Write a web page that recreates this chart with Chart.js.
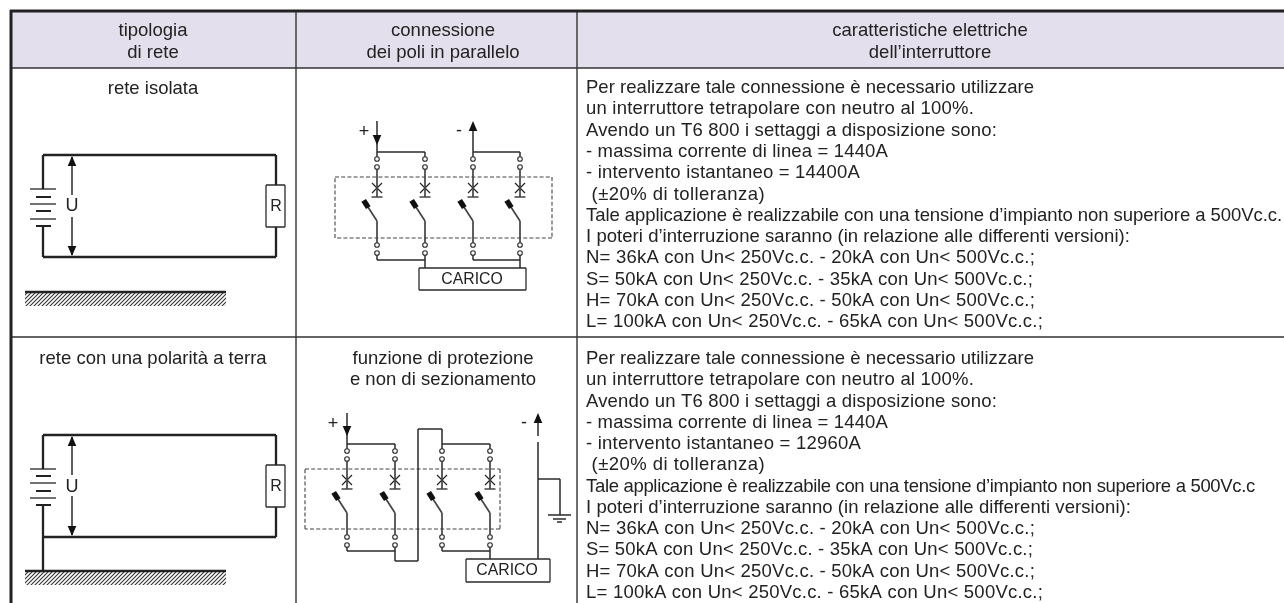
<!DOCTYPE html>
<html>
<head>
<meta charset="utf-8">
<title>tipologia di rete</title>
<script src="https://cdn.jsdelivr.net/npm/chart.js@4/dist/chart.umd.js"></script>
<style>
  html, body { margin: 0; padding: 0; background: #fff; }
  #wrap { width: 1284px; height: 603px; }
</style>
</head>
<body>
<div id="wrap"><canvas id="myChart" width="1284" height="603"></canvas></div>
<script>
// texts
const headCol1 = ['tipologia', 'di rete'];
const headCol2 = ['connessione', 'dei poli in parallelo'];
const headCol3 = ['caratteristiche elettriche', 'dell\u2019interruttore'];
const row1Title = ['rete isolata'];
const row2Title = ['rete con una polarit\u00e0 a terra'];
const row2Note = ['funzione di protezione', 'e non di sezionamento'];
const row1Text = [
  'Per realizzare tale connessione \u00e8 necessario utilizzare',
  'un interruttore tetrapolare con neutro al 100%.',
  'Avendo un T6 800 i settaggi a disposizione sono:',
  '- massima corrente di linea = 1440A',
  '- intervento istantaneo = 14400A',
  ' (\u00b120% di tolleranza)',
  'Tale applicazione \u00e8 realizzabile con una tensione d\u2019impianto non superiore a 500Vc.c.',
  'I poteri d\u2019interruzione saranno (in relazione alle differenti versioni):',
  'N= 36kA con Un< 250Vc.c. - 20kA con Un< 500Vc.c.;',
  'S= 50kA con Un< 250Vc.c. - 35kA con Un< 500Vc.c.;',
  'H= 70kA con Un< 250Vc.c. - 50kA con Un< 500Vc.c.;',
  'L= 100kA con Un< 250Vc.c. - 65kA con Un< 500Vc.c.;'
];
const row2Text = [
  'Per realizzare tale connessione \u00e8 necessario utilizzare',
  'un interruttore tetrapolare con neutro al 100%.',
  'Avendo un T6 800 i settaggi a disposizione sono:',
  '- massima corrente di linea = 1440A',
  '- intervento istantaneo = 12960A',
  ' (\u00b120% di tolleranza)',
  'Tale applicazione \u00e8 realizzabile con una tensione d\u2019impianto non superiore a 500Vc.c',
  'I poteri d\u2019interruzione saranno (in relazione alle differenti versioni):',
  'N= 36kA con Un< 250Vc.c. - 20kA con Un< 500Vc.c.;',
  'S= 50kA con Un< 250Vc.c. - 35kA con Un< 500Vc.c.;',
  'H= 70kA con Un< 250Vc.c. - 50kA con Un< 500Vc.c.;',
  'L= 100kA con Un< 250Vc.c. - 65kA con Un< 500Vc.c.;'
];
// where each line of the right column ends
const row1Ends = [1034, 974, 997, 888, 860, 765, 1282, 1130, 1035, 1033, 1035, 1043];
const row2Ends = [1034, 974, 997, 888, 861, 765, 1255, 1131, 1035, 1033, 1035, 1043];

// table frame [x1, y1, x2, y2]
const frameHeavy = [[10, 11, 1284, 11], [11, 10, 11, 603]];
const frameThin = [[296, 12, 296, 603], [577, 12, 577, 603], [12, 68, 1284, 68], [12, 337, 1284, 337]];
const headerBox = [[12, 12], [1284, 12], [1284, 68], [12, 68], [12, 12]];

// circuits on the left
const circuitWires = [
  [43, 155, 276, 155], [43, 155, 43, 189], [43, 226, 43, 257], [43, 257, 276, 257],
  [276, 155, 276, 185], [276, 227, 276, 257], [25, 292, 226, 292],
  [43, 435, 276, 435], [43, 435, 43, 469], [43, 505, 43, 571], [43, 537, 276, 537],
  [276, 435, 276, 465], [276, 507, 276, 537], [25, 571, 226, 571]
];
const batteryLong = [
  [30, 189, 56, 189], [30, 204, 56, 204], [30, 219, 56, 219],
  [30, 469, 56, 469], [30, 483, 56, 483], [30, 498, 56, 498]
];
const batteryShort = [
  [36, 197, 51, 197], [36, 211, 51, 211], [36, 226, 51, 226],
  [36, 476, 51, 476], [36, 491, 51, 491], [36, 505, 51, 505]
];
const boxes = [
  [266, 185, 285, 227], [266, 465, 285, 507],
  [419, 268, 526, 290], [466, 559, 550, 582]
];
const thinWires = [
  [72, 157, 72, 195], [72, 217, 72, 255], [72, 437, 72, 475], [72, 496, 72, 535],
  // row 1 connections
  [377, 121, 377, 159], [377, 152, 425, 152], [425, 152, 425, 157],
  [473, 125, 473, 157], [473, 152, 520, 152], [520, 152, 520, 157],
  [377, 255, 377, 260], [377, 260, 425, 260], [425, 255, 425, 268],
  [473, 255, 473, 260], [473, 260, 520, 260], [520, 255, 520, 268],
  // row 2 connections
  [347, 413, 347, 449], [347, 444, 395, 444], [395, 444, 395, 449],
  [418, 429, 442, 429], [442, 429, 442, 449], [442, 444, 490, 444], [490, 444, 490, 449],
  [347, 547, 347, 551], [347, 551, 395, 551], [395, 547, 395, 561],
  [395, 561, 418, 561], [418, 429, 418, 561],
  [442, 547, 442, 551], [442, 551, 490, 551], [490, 547, 490, 559],
  [538, 418, 538, 436], [538, 442, 538, 559], [538, 479, 560, 479], [560, 479, 560, 515],
  [548, 515, 571, 515], [553, 519, 566, 519], [557, 522, 562, 522]
];
const dashedBoxes = [
  [335, 177, 552, 177], [552, 177, 552, 238], [552, 238, 335, 238], [335, 238, 335, 177],
  [305, 469, 500, 469], [500, 469, 500, 529], [500, 529, 305, 529], [305, 529, 305, 469]
];
const groundAreas = [
  [[25, 293], [226, 293], [226, 306], [25, 306], [25, 293]],
  [[25, 572], [226, 572], [226, 585], [25, 585], [25, 572]]
];
// arrow heads [x, tip y, direction]
const arrowHeads = [
  [72, 156, -1], [72, 256, 1], [72, 436, -1], [72, 536, 1],
  [377, 145, 1], [473, 121, -1], [347, 436, 1], [538, 413, -1]
];
// poles [x, y of upper contact]
const poles = [
  [377, 159], [425, 159], [473, 159], [520, 159],
  [347, 451], [395, 451], [442, 451], [490, 451]
];

const ink = '#2b2b2b';

function seg(list) {
  const out = [];
  list.forEach(s => {
    out.push({ x: s[0], y: s[1] }, { x: s[2], y: s[3] }, { x: null, y: null });
  });
  return out;
}
function lines(list, width, color, dash) {
  return {
    type: 'scatter', showLine: true, data: seg(list),
    borderColor: color || ink, borderWidth: width, borderDash: dash || [],
    pointRadius: 0, fill: false, tension: 0, spanGaps: false
  };
}
function shape(points, color) {
  return {
    type: 'scatter', showLine: true, data: points.map(p => ({ x: p[0], y: p[1] })),
    borderColor: 'rgba(0,0,0,0)', borderWidth: 0, backgroundColor: color,
    pointRadius: 0, fill: 'shape', tension: 0
  };
}
function hatchPattern() {
  const c = document.createElement('canvas');
  c.width = 4; c.height = 4;
  const g = c.getContext('2d');
  g.strokeStyle = '#333';
  g.lineWidth = 1.1;
  g.beginPath();
  g.moveTo(-1, 5); g.lineTo(5, -1);
  g.moveTo(-1, 1); g.lineTo(1, -1);
  g.moveTo(3, 5); g.lineTo(5, 3);
  g.stroke();
  return g.createPattern(c, 'repeat');
}

// pieces derived from the pole list
const poleLines = [];
const poleCrosses = [];
const contacts = [];
const blocks = [];
poles.forEach(p => {
  const x = p[0], y = p[1];
  contacts.push({ x: x, y: y }, { x: x, y: y + 8 }, { x: x, y: y + 86 }, { x: x, y: y + 94 });
  poleLines.push([x, y + 10, x, y + 38], [x - 5.5, y + 38, x + 5.5, y + 38],
    [x - 11, y + 45, x, y + 62], [x, y + 62, x, y + 84]);
  poleCrosses.push([x - 5, y + 24, x + 5, y + 34], [x + 5, y + 24, x - 5, y + 34]);
  const cx = x - 11, cy = y + 45;
  blocks.push([[cx - 4.6, cy - 2.2], [cx, cy - 5], [cx + 4.6, cy + 2.2], [cx, cy + 5], [cx - 4.6, cy - 2.2]]);
});

function boxSegments(list) {
  const out = [];
  list.forEach(b => {
    out.push([b[0], b[1], b[2], b[1]], [b[2], b[1], b[2], b[3]], [b[2], b[3], b[0], b[3]], [b[0], b[3], b[0], b[1]]);
  });
  return out;
}

const datasets = [
  {
    type: 'scatter', data: contacts, showLine: false, pointStyle: 'circle', pointRadius: 2.3,
    pointBackgroundColor: '#fff', pointBorderColor: ink, pointBorderWidth: 1.1
  }
];
arrowHeads.forEach(a => {
  datasets.push(shape([[a[0], a[1]], [a[0] + 4.3, a[1] - a[2] * 10], [a[0] - 4.3, a[1] - a[2] * 10], [a[0], a[1]]], '#111'));
});
blocks.forEach(b => datasets.push(shape(b, '#111')));
datasets.push(lines(circuitWires, 2.3, '#222'));
datasets.push(lines(batteryLong, 1.3, '#444'));
datasets.push(lines(batteryShort, 2.2, '#222'));
datasets.push(lines(boxSegments(boxes), 1.3));
datasets.push(lines(thinWires, 1.5));
datasets.push(lines(poleLines, 1.7, '#444'));
datasets.push(lines(poleCrosses, 1.2, '#222'));
datasets.push(lines(dashedBoxes, 1.1, '#444', [4, 2.2]));
datasets.push(lines(frameHeavy, 3, '#222'));
datasets.push(lines(frameThin, 1.4, '#333'));
const hatch = hatchPattern();
groundAreas.forEach(g => datasets.push(shape(g, hatch)));
datasets.push(shape(headerBox, '#e4dfec'));

const textPlugin = {
  id: 'tableText',
  afterDatasetsDraw(chart) {
    const ctx = chart.ctx, sx = chart.scales.x, sy = chart.scales.y;
    function put(list, x, y, step, align, size, ends) {
      ctx.font = size + 'px "Liberation Sans", Arial, sans-serif';
      ctx.fillStyle = '#222';
      ctx.textAlign = align;
      ctx.textBaseline = 'middle';
      list.forEach((t, i) => {
        ctx.letterSpacing = '0px';
        if (ends) {
          // squeeze the line so it stops where it stops in the picture
          const extra = (ends[i] - x) - ctx.measureText(t).width;
          ctx.letterSpacing = (extra / t.length) + 'px';
        }
        ctx.fillText(t, sx.getPixelForValue(x), sy.getPixelForValue(y + i * step));
      });
      ctx.letterSpacing = '0px';
    }
    ctx.save();
    put(headCol1, 153, 31, 22, 'center', 18.5);
    put(headCol2, 443, 31, 22, 'center', 18.5);
    put(headCol3, 930, 31, 22, 'center', 18.5);
    put(row1Title, 153, 89, 21, 'center', 18.5);
    put(row2Title, 153, 359, 21, 'center', 18.5);
    put(row2Note, 443, 359, 21, 'center', 18.5);
    put(row1Text, 586, 88, 21.3, 'left', 18.5, row1Ends);
    put(row2Text, 586, 359, 21.25, 'left', 18.5, row2Ends);
    put(['U'], 72, 206, 0, 'center', 18);
    put(['U'], 72, 487, 0, 'center', 18);
    put(['R'], 276, 207, 0, 'center', 16);
    put(['R'], 276, 487, 0, 'center', 16);
    put(['+'], 364, 132, 0, 'center', 18);
    put(['-'], 459, 131, 0, 'center', 18);
    put(['+'], 333, 424, 0, 'center', 18);
    put(['-'], 524, 423, 0, 'center', 18);
    put(['CARICO'], 472, 280, 0, 'center', 15.8);
    put(['CARICO'], 507, 571, 0, 'center', 15.8);
    ctx.restore();
  }
};

const myChart = new Chart(document.getElementById('myChart'), {
  type: 'scatter',
  data: { datasets: datasets },
  options: {
    responsive: false,
    animation: false,
    layout: { padding: 0, autoPadding: false },
    plugins: { legend: { display: false }, tooltip: { enabled: false }, title: { display: false } },
    scales: {
      x: { type: 'linear', min: 0, max: 1284, display: false },
      y: { type: 'linear', min: 0, max: 603, reverse: true, display: false }
    }
  },
  plugins: [textPlugin]
});
</script>
</body>
</html>
